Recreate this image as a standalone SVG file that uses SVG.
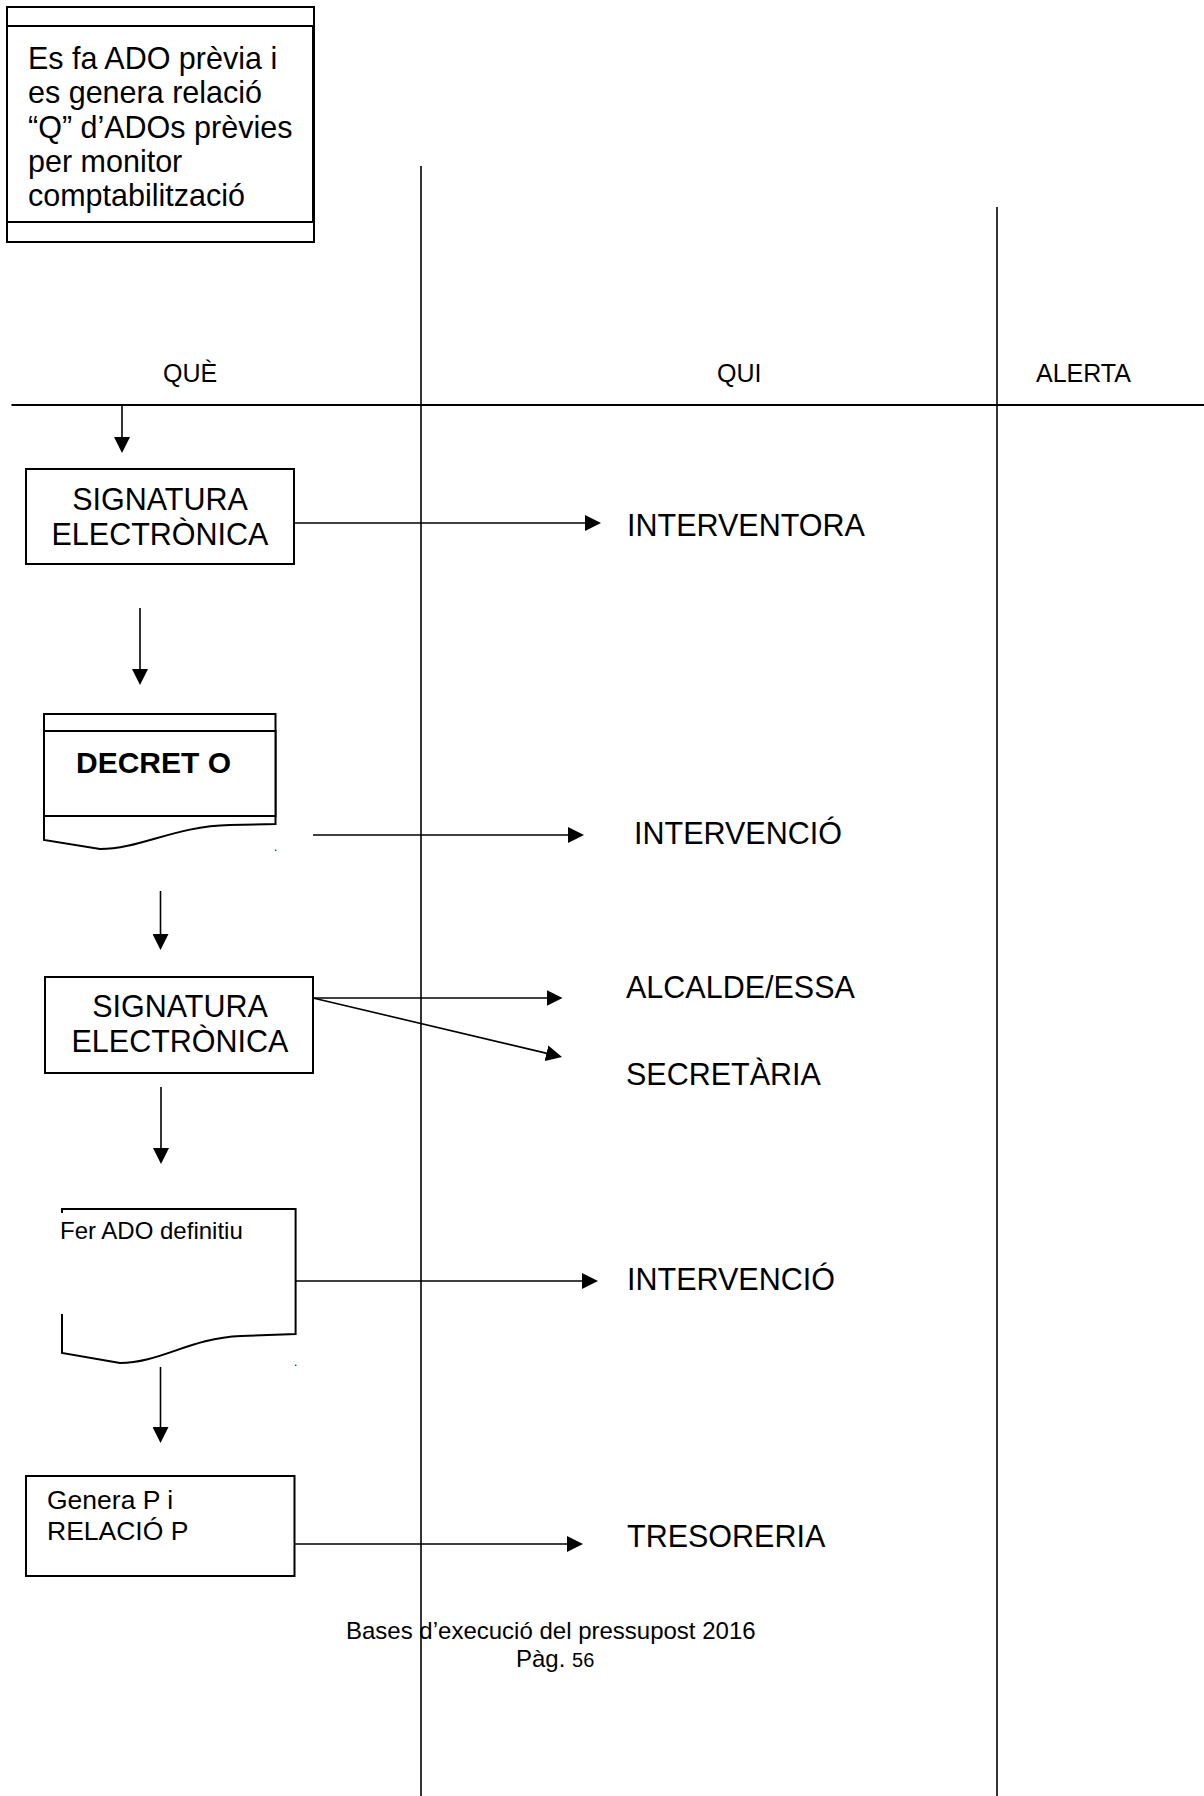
<svg xmlns="http://www.w3.org/2000/svg" width="1204" height="1796" viewBox="0 0 1204 1796">
<style>
text{font-family:"Liberation Sans",Arial,sans-serif;fill:#000}
.box{fill:#fff;stroke:#000;stroke-width:2}
.doc{fill:none;stroke:#000;stroke-width:2}
.lane{stroke:#000;stroke-width:1.6;fill:none}
.con{stroke:#000;stroke-width:1.6;fill:none;marker-end:url(#ah)}
.big{font-size:30.5px}
.hdr{font-size:25px}
</style>
<defs>
<marker id="ah" markerWidth="16" markerHeight="16" refX="6" refY="8" orient="auto" markerUnits="userSpaceOnUse">
<path d="M0,0 L16,8 L0,16 z" fill="#000"/>
</marker>
</defs>
<rect width="1204" height="1796" fill="#fff"/>

<g id="lanes">
<line class="lane" x1="421" y1="166" x2="421" y2="1796"/>
<line class="lane" x1="997" y1="207" x2="997" y2="1796"/>
<line x1="11.5" y1="405" x2="1204" y2="405" stroke="#000" stroke-width="2.2"/>
<text class="hdr" x="163" y="382">QUÈ</text>
<text class="hdr" x="717" y="382">QUI</text>
<text class="hdr" x="1036" y="382">ALERTA</text>
</g>

<g id="node-ado-previa">
<rect class="box" x="7" y="7" width="307" height="235"/>
<rect class="box" x="7" y="26" width="306" height="196"/>
<text class="big" x="28" y="69">Es fa ADO prèvia i</text>
<text class="big" x="28" y="103">es genera relació</text>
<text class="big" x="28" y="137.5">“Q” d’ADOs prèvies</text>
<text class="big" x="28" y="172">per monitor</text>
<text class="big" x="28" y="206">comptabilització</text>
</g>

<g id="node-signatura-1">
<rect class="box" x="26" y="469" width="268" height="95"/>
<text class="big" x="160" y="509.5" text-anchor="middle">SIGNATURA</text>
<text class="big" x="160" y="544.5" text-anchor="middle">ELECTRÒNICA</text>
</g>

<g id="node-decret">
<path class="doc" d="M44,840 V714 H275.5 V824 L230,825 C175,826 140,849 100,849 Z"/>
<rect class="box" x="44" y="731" width="231.5" height="85"/>
<text x="76" y="773" font-size="30" font-weight="bold">DECRET O</text>
<text x="274" y="851" font-size="12">.</text>
</g>

<g id="node-signatura-2">
<rect class="box" x="45" y="977" width="268" height="96"/>
<text class="big" x="180" y="1017" text-anchor="middle">SIGNATURA</text>
<text class="big" x="180" y="1052" text-anchor="middle">ELECTRÒNICA</text>
</g>

<g id="node-ado-definitiu">
<path class="doc" d="M62,1213 V1209 H295.6 V1334 L241,1336 C190,1338 160,1363 120,1363 L62,1353 V1314"/>
<text x="60" y="1239" font-size="24">Fer ADO definitiu</text>
<text x="294" y="1366" font-size="12">.</text>
</g>

<g id="node-genera-p">
<rect class="box" x="26" y="1476" width="268.5" height="100"/>
<text x="47" y="1509" font-size="26.5">Genera P i</text>
<text x="47" y="1540" font-size="26.5">RELACIÓ P</text>
</g>

<g id="node-labels">
<text class="big" x="627" y="536">INTERVENTORA</text>
<text class="big" x="634" y="844">INTERVENCIÓ</text>
<text class="big" x="626" y="998">ALCALDE/ESSA</text>
<text class="big" x="626" y="1085">SECRETÀRIA</text>
<text class="big" x="627" y="1290">INTERVENCIÓ</text>
<text class="big" x="627" y="1547">TRESORERIA</text>
</g>

<g id="connectors">
<line class="con" x1="122" y1="405" x2="122" y2="443"/>
<line class="con" x1="140" y1="608" x2="140" y2="675"/>
<line class="con" x1="160.5" y1="891" x2="160.5" y2="940"/>
<line class="con" x1="161" y1="1087" x2="161" y2="1154"/>
<line class="con" x1="160.5" y1="1367" x2="160.5" y2="1433"/>
<line class="con" x1="294" y1="523" x2="591" y2="523"/>
<line class="con" x1="313" y1="835" x2="574" y2="835"/>
<line class="con" x1="313" y1="998" x2="552.5" y2="998"/>
<line class="con" x1="313" y1="998" x2="552.3" y2="1054.6"/>
<line class="con" x1="295.6" y1="1281" x2="588" y2="1281"/>
<line class="con" x1="294.5" y1="1544" x2="573" y2="1544"/>
</g>

<g id="footer">
<text x="346" y="1639" font-size="24">Bases d’execució del pressupost 2016</text>
<text x="516" y="1667" font-size="24">Pàg. <tspan font-size="20">56</tspan></text>
</g>
</svg>
